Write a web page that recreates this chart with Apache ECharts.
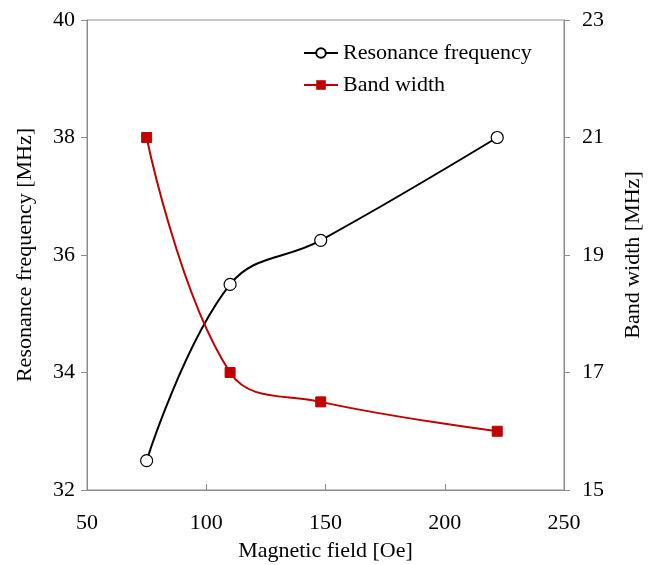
<!DOCTYPE html>
<html>
<head>
<meta charset="utf-8">
<script src="https://cdn.jsdelivr.net/npm/echarts@6/dist/echarts.min.js"></script>
<style>
  html, body { margin: 0; padding: 0; background: #fff; }
  #chart { width: 658px; height: 565px; }
</style>
</head>
<body>
<div id="chart"></div>
<script>
// field values [Oe]
const fieldOe = [75, 110, 148, 222];
const resonanceMHz = [32.5, 35.5, 36.25, 38];
const bandWidthMHz = [21, 17, 16.5, 16];

const FONT = '"Liberation Serif", "Times New Roman", serif';
const AXIS_GREY = '#8c8c8c';

function pairs(xs, ys) {
    return xs.map((x, i) => [x, ys[i]]);
}

var chartDom = document.getElementById('chart');
var myChart = echarts.init(chartDom);

var option = {
    animation: false,
    textStyle: { fontFamily: FONT },
    grid: {
        left: 87, right: 94, top: 20, bottom: 75,
        containLabel: false,
        outerBoundsMode: 'none',
        show: true, borderColor: AXIS_GREY, borderWidth: 1
    },
    legend: {
        orient: 'vertical',
        left: 298, top: 37,
        itemGap: 10,
        itemWidth: 34, itemHeight: 12,
        textStyle: { fontFamily: FONT, fontSize: 22, color: '#000' },
        data: ['Resonance frequency', 'Band width']
    },
    xAxis: {
        type: 'value',
        min: 50, max: 250, interval: 50,
        name: 'Magnetic field [Oe]',
        nameLocation: 'middle',
        nameGap: 50,
        nameTextStyle: { fontFamily: FONT, fontSize: 22, color: '#000' },
        axisLine: { lineStyle: { color: AXIS_GREY } },
        axisTick: { inside: true, length: 6, lineStyle: { color: AXIS_GREY } },
        axisLabel: { fontFamily: FONT, fontSize: 22, color: '#000', margin: 22 },
        splitLine: { show: false }
    },
    yAxis: [
        {
            type: 'value',
            min: 32, max: 40, interval: 2,
            name: 'Resonance frequency [MHz]',
            nameLocation: 'middle',
            nameGap: 51,
            nameTextStyle: { fontFamily: FONT, fontSize: 22, color: '#000' },
            axisLine: { show: true, lineStyle: { color: AXIS_GREY } },
            axisTick: { show: true, length: 6, lineStyle: { color: AXIS_GREY } },
            axisLabel: { fontFamily: FONT, fontSize: 22, color: '#000', margin: 12 },
            splitLine: { show: false }
        },
        {
            type: 'value',
            min: 15, max: 23, interval: 2,
            name: 'Band width [MHz]',
            nameLocation: 'middle',
            nameGap: 58,
            nameRotate: 90,
            nameTextStyle: { fontFamily: FONT, fontSize: 22, color: '#000' },
            axisLine: { show: true, lineStyle: { color: AXIS_GREY } },
            axisTick: { show: true, length: 6, lineStyle: { color: AXIS_GREY } },
            axisLabel: { fontFamily: FONT, fontSize: 22, color: '#000', margin: 18 },
            splitLine: { show: false }
        }
    ],
    series: [
        {
            name: 'Resonance frequency',
            type: 'line',
            yAxisIndex: 0,
            smooth: 0.4,
            symbol: 'circle',
            symbolSize: 12,
            lineStyle: { color: '#000', width: 2 },
            itemStyle: { color: '#fff', borderColor: '#000', borderWidth: 1.2 },
            data: pairs(fieldOe, resonanceMHz)
        },
        {
            name: 'Band width',
            type: 'line',
            yAxisIndex: 1,
            smooth: 0.4,
            symbol: 'rect',
            symbolSize: 10,
            lineStyle: { color: '#c00000', width: 2 },
            itemStyle: { color: '#c00000', borderColor: '#c00000' },
            data: pairs(fieldOe, bandWidthMHz)
        }
    ]
};

option && myChart.setOption(option);
</script>
</body>
</html>
